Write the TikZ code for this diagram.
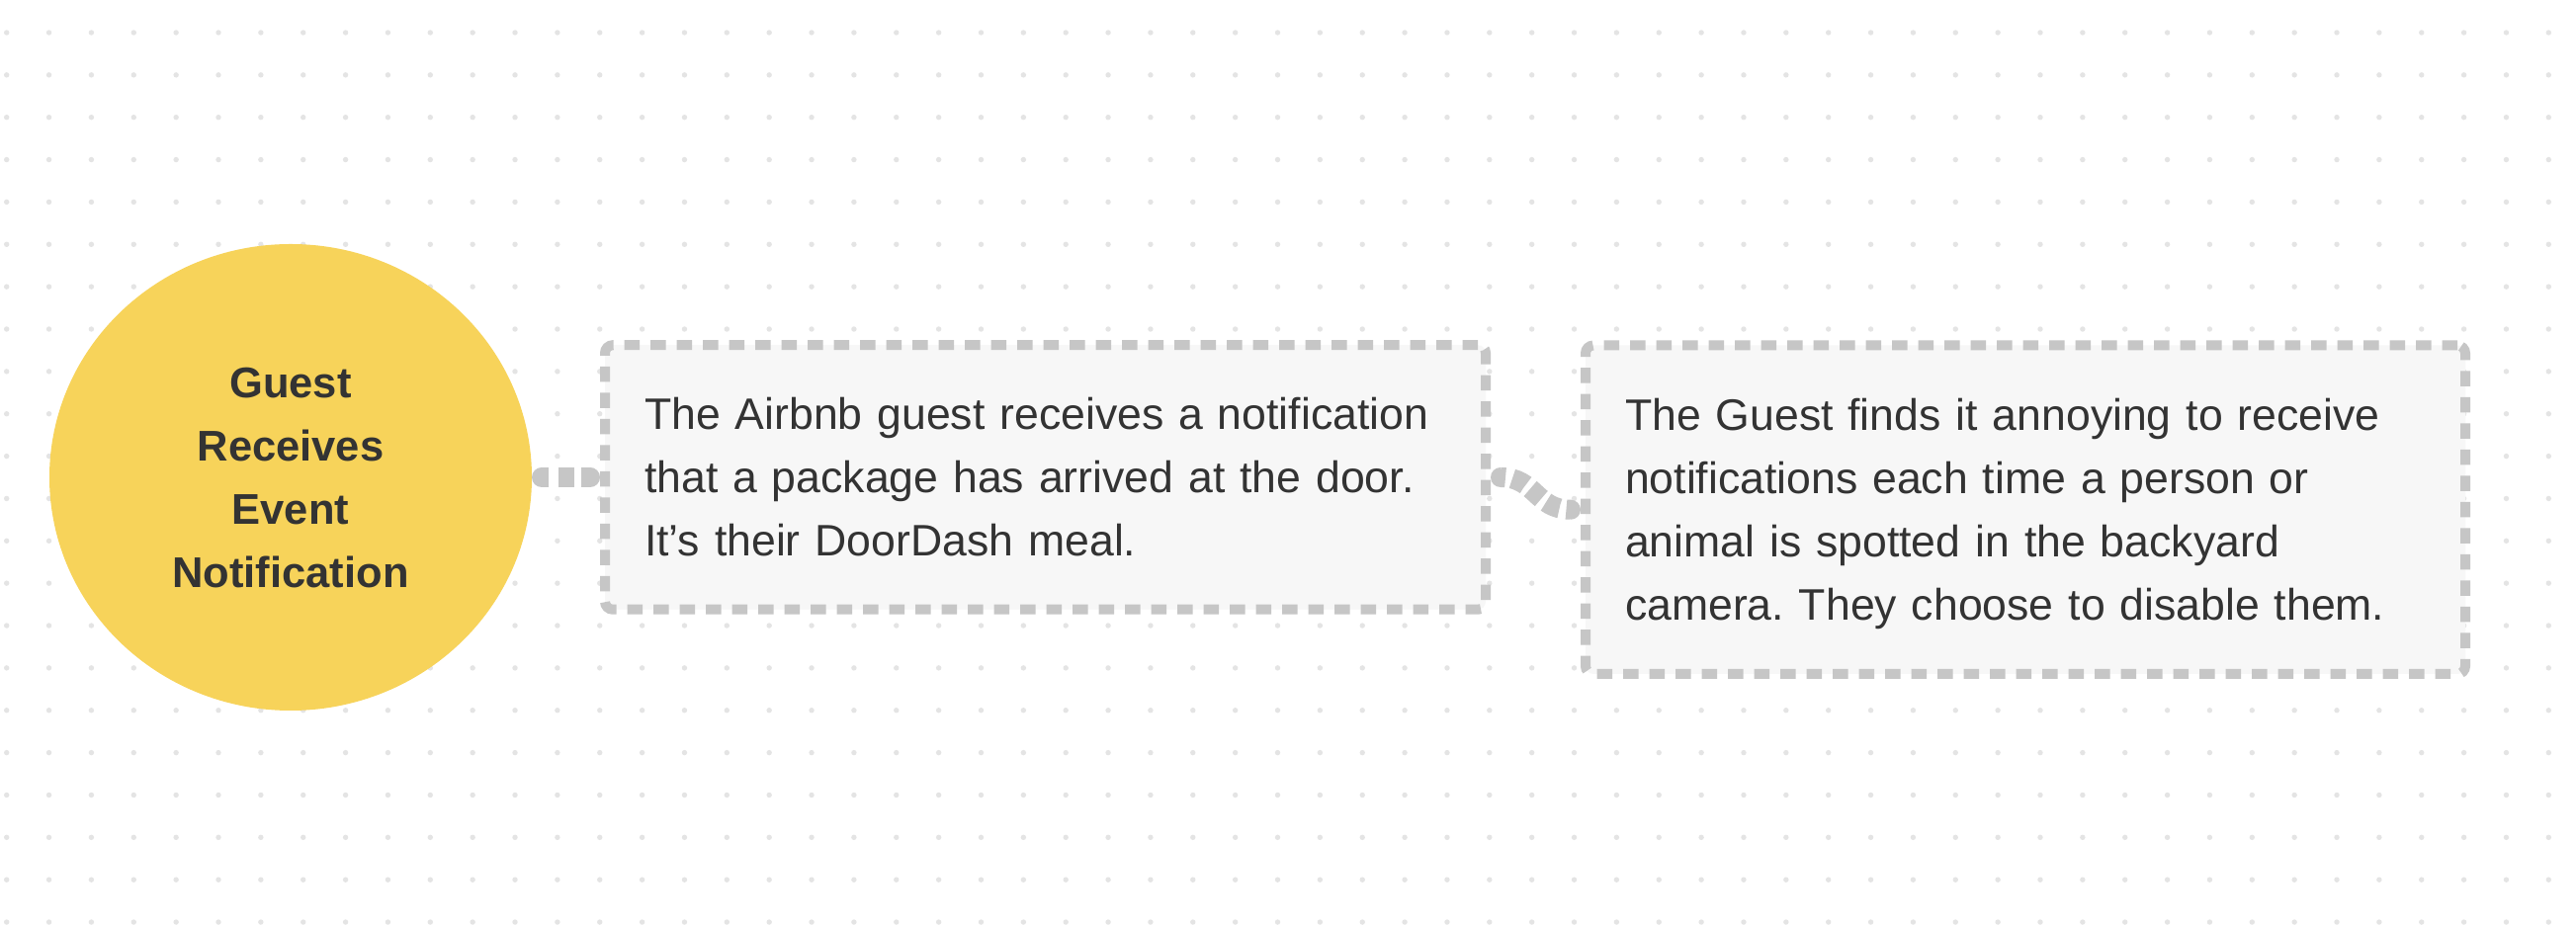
\documentclass[tikz,border=0pt]{standalone}
\usepackage{fontspec}
\setmainfont{Liberation Sans}
\usetikzlibrary{shapes.geometric}
\definecolor{dotc}{HTML}{E4E4E4}
\definecolor{yellowc}{HTML}{F7D35A}
\definecolor{linec}{HTML}{C6C6C6}
\definecolor{cardc}{HTML}{F7F7F7}
\definecolor{textc}{HTML}{333333}
\frenchspacing
\newcommand{\mycardfont}{\fontsize{44.6pt}{64pt}\selectfont\hyphenpenalty=10000\relax}
\begin{document}
\begin{tikzpicture}[x=1pt,y=1pt,
  bubble/.style={ellipse, fill=yellowc, minimum width=488pt, minimum height=472pt,
    inner sep=0pt, outer sep=0pt, align=center, text=textc,
    font=\fontsize{43.5pt}{64pt}\selectfont\bfseries},
  card/.style={rectangle, rounded corners=8pt, draw=linec, line width=10pt,
    dash pattern=on 15.5pt off 11pt, fill=cardc, inner sep=0pt, align=left,
    text=textc, font=\mycardfont},
  conn/.style={draw=linec, line width=20pt, line cap=butt},
  conncap/.style={fill=linec}]
\useasboundingbox (0,0) rectangle (2606,936);
\fill[white] (0,0) rectangle (2606,936);
\foreach \i in {0,...,60}{
  \foreach \j in {0,...,21}{
    \fill[dotc] (6.7+42.86*\i, 903-42.86*\j) circle[radius=2.7pt];
  }
}
\node[bubble] (c) at (294,453) {\rule{0pt}{42pt}Guest\\Receives\\Event\\Notification\rule[-10pt]{0pt}{10pt}};
\node[card, minimum width=891pt, minimum height=267.5pt, text width=811pt] (b1) at (1057.5,453)
  {\rule{0pt}{41pt}The Airbnb guest receives a notification\\that a package has arrived at the door.\\It’s their DoorDash meal.\rule[-10pt]{0pt}{10pt}};
\node[card, minimum width=890pt, minimum height=332.5pt, text width=810pt] (b2) at (2049,420.25)
  {\rule{0pt}{41pt}The Guest finds it annoying to receive\\notifications each time a person or\\animal is spotted in the backyard\\camera. They choose to disable them.\rule[-10pt]{0pt}{10pt}};
% connector 1
\coordinate (c1s) at ([xshift=10pt]c.east);
\coordinate (c1e) at ([xshift=-10pt]b1.west);
\draw[conn, dash pattern=on 7pt off 10pt on 16pt off 7pt on 9pt off 60pt] (c1s) -- (c1e);
\fill[conncap] (c1s) ++(0,10) arc[start angle=90,end angle=270,radius=10pt] -- cycle;
\fill[conncap] (c1e) ++(0,-10) arc[start angle=-90,end angle=90,radius=10pt] -- cycle;
% connector 2
\coordinate (c2s) at ([xshift=10pt]b1.east);
\coordinate (c2e) at ([xshift=-10pt]b2.west);
\draw[conn, dash pattern=on 5pt off 7pt on 15pt off 6pt on 15pt off 6pt on 15pt off 7pt on 5pt off 60pt]
  (c2s) .. controls +(35.5,0) and +(-35.5,0) .. (c2e);
\fill[conncap] (c2s) ++(0,10) arc[start angle=90,end angle=270,radius=10pt] -- cycle;
\fill[conncap] (c2e) ++(0,-10) arc[start angle=-90,end angle=90,radius=10pt] -- cycle;
\end{tikzpicture}
\end{document}
